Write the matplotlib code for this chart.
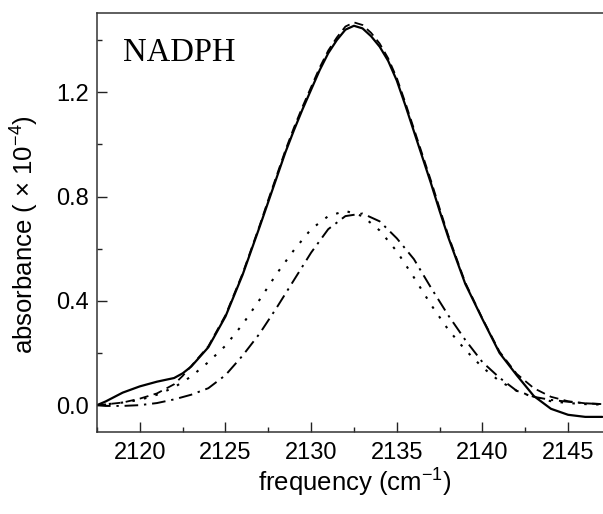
import matplotlib
matplotlib.use("Agg")
import matplotlib.pyplot as plt
from matplotlib.ticker import MultipleLocator

plt.rcParams['font.family'] = ['Liberation Sans', 'DejaVu Sans']
plt.rcParams['mathtext.fontset'] = 'custom'
plt.rcParams['mathtext.rm'] = 'Liberation Sans'
plt.rcParams['mathtext.it'] = 'Liberation Sans:italic'
plt.rcParams['mathtext.default'] = 'regular'

# ---- data ----
freq_solid = [2117.5, 2118, 2119, 2120, 2121, 2122, 2122.5, 2123, 2124, 2125, 2126, 2127,
              2127.5, 2128, 2128.5, 2129, 2129.5, 2130, 2130.5, 2131, 2131.5, 2132,
              2132.5, 2133, 2133.5, 2134, 2134.5, 2135, 2135.5, 2136, 2136.5, 2137,
              2137.5, 2138, 2139, 2140, 2141, 2142, 2143, 2144, 2145, 2146, 2147]
abs_solid = [0.0, 0.014, 0.048, 0.072, 0.09, 0.104, 0.122, 0.148, 0.222, 0.34, 0.50, 0.685,
             0.78, 0.875, 0.97, 1.055, 1.135, 1.21, 1.285, 1.35, 1.40, 1.44,
             1.455, 1.445, 1.415, 1.375, 1.32, 1.245, 1.15, 1.05, 0.95, 0.85,
             0.745, 0.645, 0.465, 0.33, 0.20, 0.115, 0.035, -0.014, -0.037, -0.045, -0.045]

freq_dashed = freq_solid
abs_dashed = [0.0, 0.003, 0.01, 0.025, 0.045, 0.08, 0.112, 0.15, 0.226, 0.345, 0.505, 0.69,
              0.788, 0.883, 0.978, 1.065, 1.145, 1.22, 1.295, 1.36, 1.41, 1.452,
              1.468, 1.458, 1.428, 1.387, 1.33, 1.255, 1.16, 1.06, 0.96, 0.86,
              0.755, 0.652, 0.47, 0.332, 0.205, 0.12, 0.065, 0.032, 0.015, 0.007, 0.004]

freq_low = [2117.5, 2118, 2119, 2120, 2121, 2122, 2123, 2124, 2125, 2126, 2127, 2128,
            2129, 2130, 2131, 2132, 2133, 2134, 2135, 2136, 2137, 2138, 2139, 2140,
            2141, 2142, 2143, 2144, 2145, 2146, 2147]
abs_dotted = [0.0, 0.003, 0.01, 0.02, 0.04, 0.068, 0.11, 0.165, 0.228, 0.31, 0.405, 0.505,
              0.595, 0.675, 0.725, 0.745, 0.725, 0.67, 0.59, 0.49, 0.385, 0.29, 0.212, 0.145,
              0.092, 0.055, 0.03, 0.015, 0.008, 0.004, 0.002]
abs_dashdot = [0.0, -0.003, -0.003, 0.0, 0.008, 0.022, 0.04, 0.065, 0.115, 0.19, 0.275, 0.375,
               0.48, 0.585, 0.675, 0.725, 0.735, 0.705, 0.64, 0.56, 0.45, 0.345, 0.25, 0.165,
               0.105, 0.055, 0.032, 0.02, 0.013, 0.007, 0.004]

xticks = [2120, 2125, 2130, 2135, 2140, 2145]
yticks = [0.0, 0.4, 0.8, 1.2]

# ---- figure ----
W, H = 603, 514
fig = plt.figure(figsize=(W / 100, H / 100), dpi=100)
left_px, right_px, top_px, bottom_px = 97, 612, 13, 432
ax = fig.add_axes([left_px / W, 1 - bottom_px / H,
                   (right_px - left_px) / W, (bottom_px - top_px) / H])

ax.plot(freq_solid, abs_solid, color='black', lw=1.6, solid_capstyle='round')
ax.plot(freq_dashed, abs_dashed, color='black', lw=1.3, linestyle=(0, (5, 3)))
ax.plot(freq_low, abs_dotted, color='black', lw=1.5, linestyle=(0, (1.2, 4.5)))
ax.plot(freq_low, abs_dashdot, color='black', lw=1.4, linestyle=(0, (7, 3, 1.2, 3)))

ax.set_xlim(2117.5, 2117.5 + (right_px - left_px) / 17.13)
ax.set_ylim(-0.103, 1.504)

ax.set_xticks(xticks)
ax.set_yticks(yticks)
ax.set_yticklabels([f"{v:.1f}" for v in yticks])
ax.xaxis.set_minor_locator(MultipleLocator(2.5))
ax.yaxis.set_minor_locator(MultipleLocator(0.2))

ax.tick_params(which='both', direction='in', top=False, right=False,
               labelsize=17, width=1.0, color='#222222')
ax.tick_params(axis='x', which='major', length=7, pad=7)
ax.tick_params(axis='y', which='major', length=7, pad=6)
ax.tick_params(which='minor', length=3.5)

for s in ax.spines.values():
    s.set_linewidth(1.1)
    s.set_color('#333333')

ax.set_xlabel("frequency (cm$^{-1}$)", fontsize=18.5)
ax.set_ylabel("absorbance ( × 10$^{-4}$)", fontsize=18.5)
# label centres placed at the reference's pixel positions
ax.xaxis.set_label_coords((355 - left_px) / (right_px - left_px),
                          -(483 - bottom_px) / (bottom_px - top_px), transform=ax.transAxes)
ax.xaxis.label.set_va('center')
ax.yaxis.set_label_coords(-(left_px - 25) / (right_px - left_px),
                          (bottom_px - 235) / (bottom_px - top_px), transform=ax.transAxes)
ax.yaxis.label.set_va('center')

ax.text(2119.0, 1.32, "NADPH", fontsize=23.5,
        family=['Liberation Serif', 'DejaVu Serif'], color='black')

fig.savefig("out.png", dpi=100)
